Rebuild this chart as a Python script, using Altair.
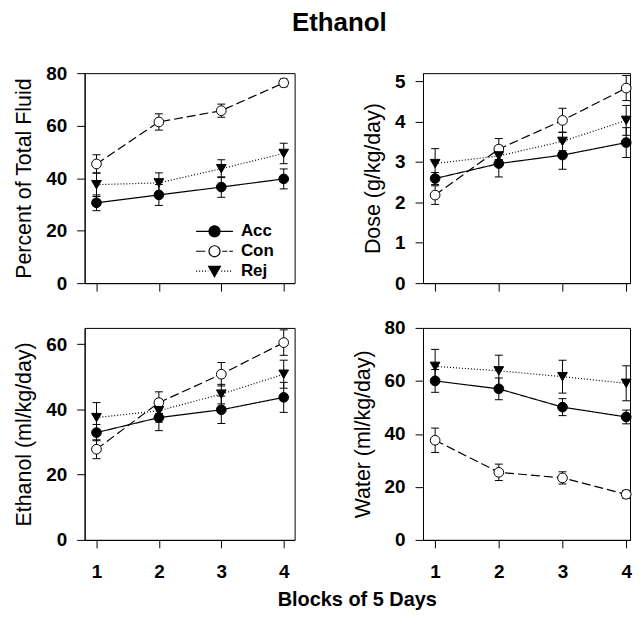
import altair as alt
import pandas as pd

blocks = [1, 2, 3, 4]
groups = ["Acc", "Con", "Rej"]

# Percent of Total Fluid
pct_mean = {"Acc": [30.6, 33.6, 36.6, 39.7], "Con": [45.4, 61.4, 65.7, 76.3], "Rej": [37.5, 38.2, 43.6, 49.4]}
pct_err = {"Acc": [3.0, 4.0, 3.9, 3.8], "Con": [3.5, 3.1, 2.5, 1.5], "Rej": [4.5, 3.8, 3.4, 3.9]}
# Dose (g/kg/day)
dose_mean = {"Acc": [2.59, 2.96, 3.17, 3.48], "Con": [2.18, 3.32, 4.03, 4.83], "Rej": [2.96, 3.15, 3.51, 4.03]}
dose_err = {"Acc": [0.15, 0.33, 0.35, 0.37], "Con": [0.23, 0.26, 0.30, 0.31], "Rej": [0.37, 0.25, 0.23, 0.37]}
# Ethanol (ml/kg/day)
eth_mean = {"Acc": [32.9, 37.5, 39.9, 43.7], "Con": [27.8, 42.1, 50.8, 60.5], "Rej": [37.5, 39.6, 44.7, 50.8]}
eth_err = {"Acc": [2.5, 4.0, 4.2, 4.6], "Con": [2.9, 3.3, 3.6, 3.9], "Rej": [4.6, 3.5, 3.0, 4.3]}
# Water (ml/kg/day)
wat_mean = {"Acc": [60.0, 57.0, 50.1, 46.4], "Con": [37.6, 25.5, 23.4, 17.2], "Rej": [65.5, 63.8, 61.6, 59.1]}
wat_err = {"Acc": [4.3, 4.1, 3.2, 2.6], "Con": [4.6, 3.1, 2.3, 1.5], "Rej": [6.4, 5.9, 6.2, 6.6]}

FONT = "Liberation Sans"

# legend symbols: line segment + marker, as custom paths (unit coords)
circle = "M-0.3,0A0.3,0.3 0 1,1 0.3,0A0.3,0.3 0 1,1 -0.3,0Z"
tri = "M-0.32,-0.26L0.32,-0.26L0,0.3Z"
acc_path = "M-1,0H1" + circle
con_path = "M-1,0H-0.5M0.42,0H0.7M0.8,0H1" + circle


def dots(a, b):
    s, p = "", a
    while p < b:
        s += "M%.3f,0H%.3f" % (p, min(p + 0.06, b))
        p += 0.16
    return s


rej_path = dots(-1, -0.34) + dots(0.36, 1) + tri
legend_paths = [acc_path, con_path, rej_path]


def panel(mean, err, ytitle, ydom, yticks, width, height, xdom, bottom, with_legend=False):
    rows = []
    for g in groups:
        for b, m, e in zip(blocks, mean[g], err[g]):
            rows.append({"block": b, "group": g, "mean": m, "lo": m - e, "hi": m + e})
    df = pd.DataFrame(rows)
    base = alt.Chart(df)
    x = alt.X(
        "block:Q",
        scale=alt.Scale(domain=xdom, nice=False, zero=False),
        axis=alt.Axis(values=blocks, labels=bottom, title=None, format="d", labelPadding=15),
    )
    yscale = alt.Scale(domain=ydom, nice=False, zero=False)
    yaxis = alt.Axis(values=yticks, title=ytitle)

    def Y(f):
        return alt.Y(f, type="quantitative", scale=yscale, axis=yaxis)

    rules = base.mark_rule(color="black", strokeWidth=1).encode(x=x, y=Y("lo"), y2="hi:Q")
    caps = base.transform_fold(["lo", "hi"], as_=["end", "val"]).mark_tick(
        orient="horizontal", size=8, thickness=1, color="black", opacity=1
    ).encode(x=x, y=Y("val"))
    lines = base.mark_line(color="black", strokeWidth=1.2).encode(
        x=x,
        y=Y("mean"),
        strokeDash=alt.StrokeDash(
            "group:N", scale=alt.Scale(domain=groups, range=[[1, 0], [9, 4], [1, 2]]), legend=None
        ),
    )
    points = base.mark_point(stroke="black", strokeWidth=1, opacity=1).encode(
        x=x,
        y=Y("mean"),
        shape=alt.Shape("group:N", scale=alt.Scale(domain=groups, range=["circle", "circle", "triangle-down"]), legend=None),
        fill=alt.Fill("group:N", scale=alt.Scale(domain=groups, range=["black", "white", "black"]), legend=None),
        size=alt.Size("group:N", scale=alt.Scale(domain=groups, range=[95, 95, 125]), legend=None),
    )
    layers = [rules, caps, lines, points]
    if with_legend:
        leg = dict(
            orient="none", legendX=111, legendY=149, title=None, symbolSize=1369, clipHeight=20,
            rowPadding=0, padding=0, labelOffset=7, labelFont=FONT, labelFontSize=17,
            labelFontWeight="bold", labelColor="black", symbolStrokeWidth=1.2,
            symbolOpacity=1,
        )
        legend_layer = base.transform_filter("false").mark_point(
            strokeWidth=1.2, opacity=1
        ).encode(
            x=x,
            y=Y("mean"),
            shape=alt.Shape("group:N", scale=alt.Scale(domain=groups, range=legend_paths), legend=alt.Legend(**leg)),
            fill=alt.Fill("group:N", scale=alt.Scale(domain=groups, range=["black", "white", "black"]), legend=alt.Legend(**leg)),
            stroke=alt.Stroke("group:N", scale=alt.Scale(domain=groups, range=["black", "black", "black"]), legend=alt.Legend(**leg)),
        )
        layers.append(legend_layer)
    return alt.layer(*layers).properties(width=width, height=height).resolve_scale(
        shape="independent", fill="independent", size="independent", strokeDash="independent",
        stroke="independent",
    )


left_dom = [0.81, 4.175]
right_dom = [0.81, 4.06]
p1 = panel(pct_mean, pct_err, "Percent of Total Fluid", [0, 80], [0, 20, 40, 60, 80], 211, 211, left_dom, False, True)
p2 = panel(dose_mean, dose_err, "Dose (g/kg/day)", [0, 5.2], [0, 1, 2, 3, 4, 5], 208, 211, right_dom, False)
p3 = panel(eth_mean, eth_err, "Ethanol (ml/kg/day)", [0, 65], [0, 20, 40, 60], 211, 213, left_dom, True)
p4 = panel(wat_mean, wat_err, "Water (ml/kg/day)", [0, 80], [0, 20, 40, 60, 80], 208, 213, right_dom, True)

ind = dict(shape="independent", fill="independent", size="independent", strokeDash="independent",
           stroke="independent")

row1 = alt.hconcat(p1, p2, spacing=66).resolve_scale(**ind)
row2 = alt.hconcat(
    p3, p4, spacing=56,
    title=alt.TitleParams("Blocks of 5 Days", orient="bottom", anchor="middle", font=FONT,
                          fontSize=20, fontWeight="bold", color="black", offset=8, dx=34),
).resolve_scale(**ind)

chart = alt.vconcat(
    row1, row2, spacing=24, background="white",
    padding={"top": 0, "bottom": -2, "left": 5, "right": 0},
    title=alt.TitleParams("Ethanol", anchor="middle", font=FONT, fontSize=26, fontWeight="bold",
                          color="black", offset=28, dx=16),
).resolve_scale(**ind).configure_view(stroke="black", strokeWidth=1).configure_axis(
    domainColor="black", domainWidth=1, tickColor="black", tickWidth=1, tickSize=8, grid=False,
    labelFont=FONT, labelFontSize=19, labelFontWeight="bold", labelColor="black", labelPadding=10,
    titleFont=FONT, titleFontSize=21.5, titleFontWeight="normal", titleColor="black", titlePadding=10,
)

chart.save("out.html", embed_options={"renderer": "svg", "actions": False})
